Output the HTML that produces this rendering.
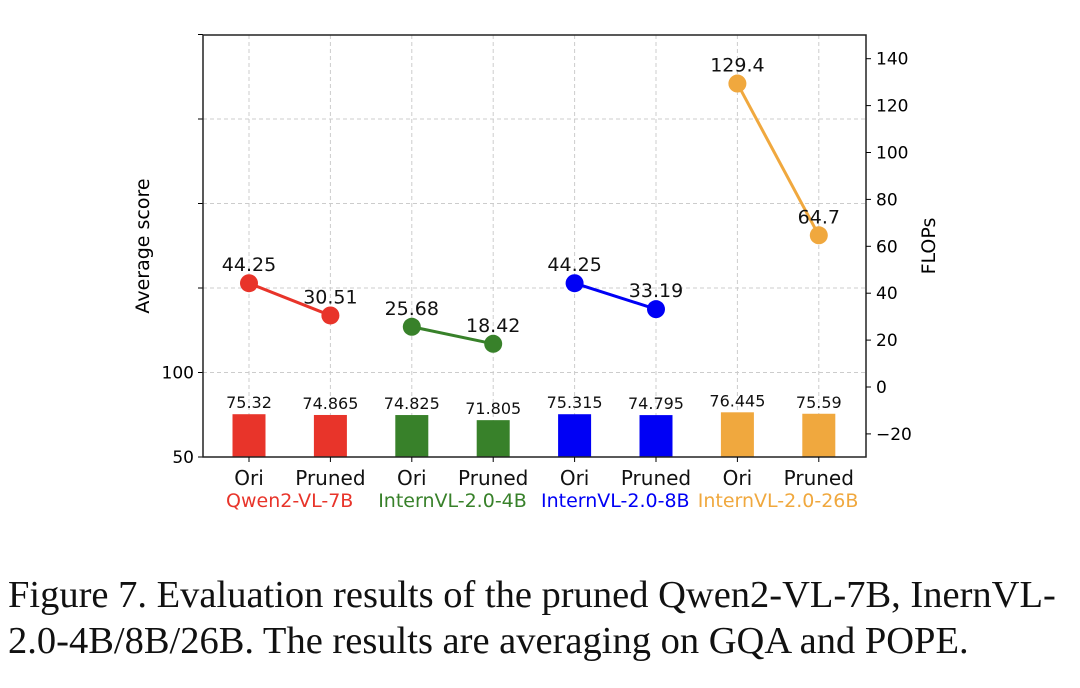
<!DOCTYPE html>
<html><head><meta charset="utf-8"><style>
body{margin:0;background:#fff;width:1080px;height:688px;overflow:hidden}
svg text{font-family:"DejaVu Sans","Liberation Sans",sans-serif}
.cap{position:absolute;left:8px;font-family:"Liberation Serif",serif;font-size:38.5px;color:#111;white-space:nowrap;line-height:46px}
</style></head><body>
<svg id="chart" width="1080" height="560" style="position:absolute;left:0;top:0"></svg>
<div class="cap" style="top:572px">Figure 7. Evaluation results of the pruned Qwen2-VL-7B, InernVL-</div>
<div class="cap" style="top:618px">2.0-4B/8B/26B. The results are averaging on GQA and POPE.</div>
<script>
const categories=["Ori","Pruned","Ori","Pruned","Ori","Pruned","Ori","Pruned"];
const models=["Qwen2-VL-7B","InternVL-2.0-4B","InternVL-2.0-8B","InternVL-2.0-26B"];
const colors=["#e8342a","#38812a","#0000f5","#f0a83e"];
const scores=[75.32,74.865,74.825,71.805,75.315,74.795,76.445,75.59];
const scoreLabels=["75.32","74.865","74.825","71.805","75.315","74.795","76.445","75.59"];
const flops=[44.25,30.51,25.68,18.42,44.25,33.19,129.4,64.7];
const flopLabels=["44.25","30.51","25.68","18.42","44.25","33.19","129.4","64.7"];
const leftTicks=[50,100,150,200,250,300];
const leftTickLabels=["50","100","","","",""];
const rightTicks=[-20,0,20,40,60,80,100,120,140];

const NS="http://www.w3.org/2000/svg";
const svg=document.getElementById('chart');
const X0=203,X1=866,Y0=457,Y1=35;
const xs=i=>249+i*81.4;
const yl=v=>457-(v-50)*1.69;
const yr=v=>387-v*2.345;
function el(t,a,p){const e=document.createElementNS(NS,t);for(const k in a)e.setAttribute(k,a[k]);(p||svg).appendChild(e);return e;}
function tx(x,y,s,a){const e=el('text',Object.assign({x:x,y:y},a));e.textContent=s;return e;}
leftTicks.forEach((v,i)=>{const y=yl(v);if(y>Y1+2&&y<Y0-2){const g=el('line',{x1:X0,x2:X1,y1:y,y2:y,stroke:'#ccc','stroke-dasharray':'4,3','stroke-width':1});

}
const t=el('line',{x1:X0-5,x2:X0,y1:y,y2:y,stroke:'#000'});


if(leftTickLabels[i]){const l=tx(X0-9,y+6,leftTickLabels[i],{'font-size':17,'text-anchor':'end'});

}});
categories.forEach((c,i)=>{const x=xs(i);const g=el('line',{x1:x,x2:x,y1:Y1,y2:Y0,stroke:'#ccc','stroke-dasharray':'4,3'});

});
scores.forEach((v,i)=>{const x=xs(i),y=yl(v);const b=el('rect',{x:x-16.5,y:y,width:33,height:Y0-y,fill:colors[Math.floor(i/2)]});


const l=tx(x,y-6,scoreLabels[i],{'font-size':16,'text-anchor':'middle',fill:'#111'});

});
for(let m=0;m<4;m++){const a=2*m,b=2*m+1;const ln=el('line',{x1:xs(a),y1:yr(flops[a]),x2:xs(b),y2:yr(flops[b]),stroke:colors[m],'stroke-width':3});


[a,b].forEach(i=>{const c=el('circle',{cx:xs(i),cy:yr(flops[i]),r:9,fill:colors[m]});


const l=tx(xs(i),yr(flops[i])-12,flopLabels[i],{'font-size':19,'text-anchor':'middle',fill:'#111'});

});}
const f=el('rect',{x:X0,y:Y1,width:X1-X0,height:Y0-Y1,fill:'none',stroke:'#222','stroke-width':1.5});


rightTicks.forEach(v=>{const y=yr(v);el('line',{x1:X1,x2:X1+5,y1:y,y2:y,stroke:'#000'});
const l=tx(X1+10,y+6,v<0?'\u2212'+(-v):String(v),{'font-size':17});

});
categories.forEach((c,i)=>{const x=xs(i);el('line',{x1:x,x2:x,y1:Y0,y2:Y0+5,stroke:'#000'});
const l=tx(x,Y0+28,c,{'font-size':20,'text-anchor':'middle',fill:'#111'});

});
models.forEach((m,k)=>{const x=(xs(2*k)+xs(2*k+1))/2;const l=tx(x,Y0+50,m,{'font-size':19,'text-anchor':'middle',fill:colors[k]});

});
const yt=tx(0,0,'Average score',{'font-size':19,'text-anchor':'middle',transform:'translate(149,246) rotate(-90)'});


const rt=tx(0,0,'FLOPs',{'font-size':19,'text-anchor':'middle',transform:'translate(935,246) rotate(-90)'});


</script>
</body></html>
